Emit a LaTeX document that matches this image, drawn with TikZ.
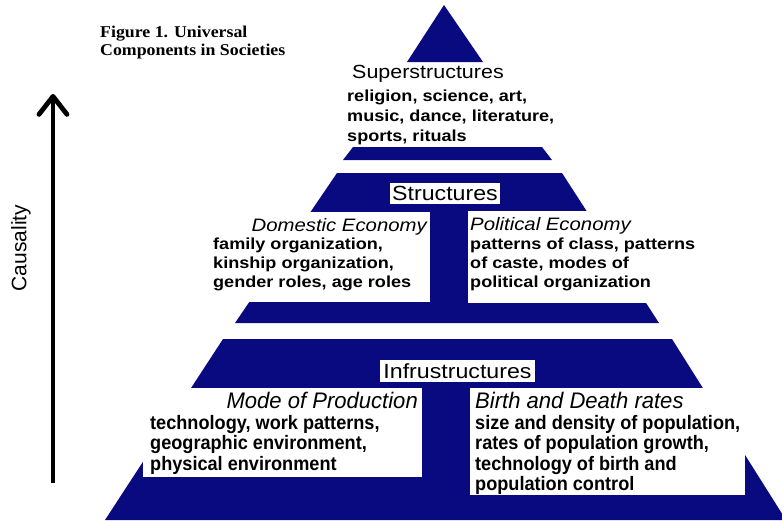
\documentclass[tikz,border=0pt]{standalone}
\usepackage{fontspec}
\setmainfont{Liberation Sans}
\newfontfamily\wideSans{Liberation Sans}[FakeStretch=1.13]
\newfontfamily\narrowSans{Liberation Sans}[FakeStretch=0.93]
\newfontfamily\headSans{Liberation Sans}[FakeStretch=0.98]
\newfontfamily\capFont{Liberation Serif}[FakeStretch=1.08]
\usetikzlibrary{arrows.meta}
\definecolor{pyrblue}{RGB}{10,10,128}

\begin{document}
\begin{tikzpicture}[x=1pt,y=-1pt,
  band/.style={fill=pyrblue,draw=none},
  panel/.style={fill=white,draw=none},
  txt/.style={inner sep=0pt,anchor=base west,text=black},
  superhead/.style={txt,font=\wideSans\fontsize{19}{22}\selectfont},
  bodywide/.style={txt,font=\wideSans\bfseries\fontsize{16}{19}\selectfont},
  headwide/.style={txt,font=\wideSans\itshape\fontsize{18}{21}\selectfont},
  bodynarrow/.style={txt,font=\narrowSans\bfseries\fontsize{19.5}{21}\selectfont},
  headnarrow/.style={txt,font=\headSans\itshape\fontsize{22.5}{25}\selectfont},
  tierlabel/.style={fill=white,inner sep=0pt,text=black,
    font=\wideSans\fontsize{20.5}{24}\selectfont},
  captxt/.style={txt,font=\capFont\bfseries\fontsize{16.5}{18}\selectfont}
]
\useasboundingbox (0,0) rectangle (782,520);

% caption
\node[captxt] (cap1) at (100,37) {Figure 1. Universal};
\node[captxt] (cap2) at (100,55) {Components in Societies};

% causality arrow
\coordinate (abot) at (53,483);
\coordinate (atop) at (53,94);
\draw[line width=4.8pt,line cap=butt,
  -{Straight Barb[length=18pt,width=28pt,line width=4.8pt,line cap=round,line join=round]}]
  (abot) -- (atop);
\node[rotate=90,inner sep=0pt,font=\fontsize{21}{24}\selectfont] (caus) at (21,248) {Causality};

% apex and superstructure band
\fill[band] (444,5) -- (483,62) -- (407,62) -- cycle;
\fill[band] (353,147) -- (542,147) -- (552,160) -- (343,160) -- cycle;

\node[superhead] (suph) at (352,78) {Superstructures};
\node[bodywide] (sup1) at (347,101) {religion, science, art,};
\node[bodywide] (sup2) at (347,121) {music, dance, literature,};
\node[bodywide] (sup3) at (347,141) {sports, rituals};

% structures band
\fill[band] (337,173) -- (562,173) -- (659,323) -- (235,323) -- cycle;
\fill[panel] (205,212) rectangle (430,302);
\fill[panel] (468,211) rectangle (690,303);
\node[tierlabel,minimum width=110pt,minimum height=21pt] (struct) at (445,193.5) {Structures};

\node[headwide,anchor=base east] (dom) at (427,231) {Domestic Economy};
\node[bodywide] (dom1) at (213,249) {family organization,};
\node[bodywide] (dom2) at (213,268) {kinship organization,};
\node[bodywide] (dom3) at (213,287) {gender roles, age roles};

\node[headwide] (pol) at (470,230) {Political Economy};
\node[bodywide] (pol1) at (470,249) {patterns of class, patterns};
\node[bodywide] (pol2) at (470,268) {of caste, modes of};
\node[bodywide] (pol3) at (470,287) {political organization};

% infrastructure band
\fill[band] (223,339) -- (672,339) -- (786,520) -- (105,520) -- cycle;
\fill[panel] (143,388) rectangle (422,477);
\fill[panel] (470,388) rectangle (745,495);
\node[tierlabel,minimum width=155pt,minimum height=22pt] (infra) at (457.5,371) {Infrustructures};

\node[headnarrow,anchor=base east] (mode) at (418,408) {Mode of Production};
\node[bodynarrow] (mode1) at (150,429) {technology, work patterns,};
\node[bodynarrow] (mode2) at (150,449.5) {geographic environment,};
\node[bodynarrow] (mode3) at (150,470) {physical environment};

\node[headnarrow] (birth) at (475,408) {Birth and Death rates};
\node[bodynarrow] (birth1) at (475,429) {size and density of population,};
\node[bodynarrow] (birth2) at (475,449.5) {rates of population growth,};
\node[bodynarrow] (birth3) at (475,470) {technology of birth and};
\node[bodynarrow] (birth4) at (475,490) {population control};
\end{tikzpicture}
\end{document}
